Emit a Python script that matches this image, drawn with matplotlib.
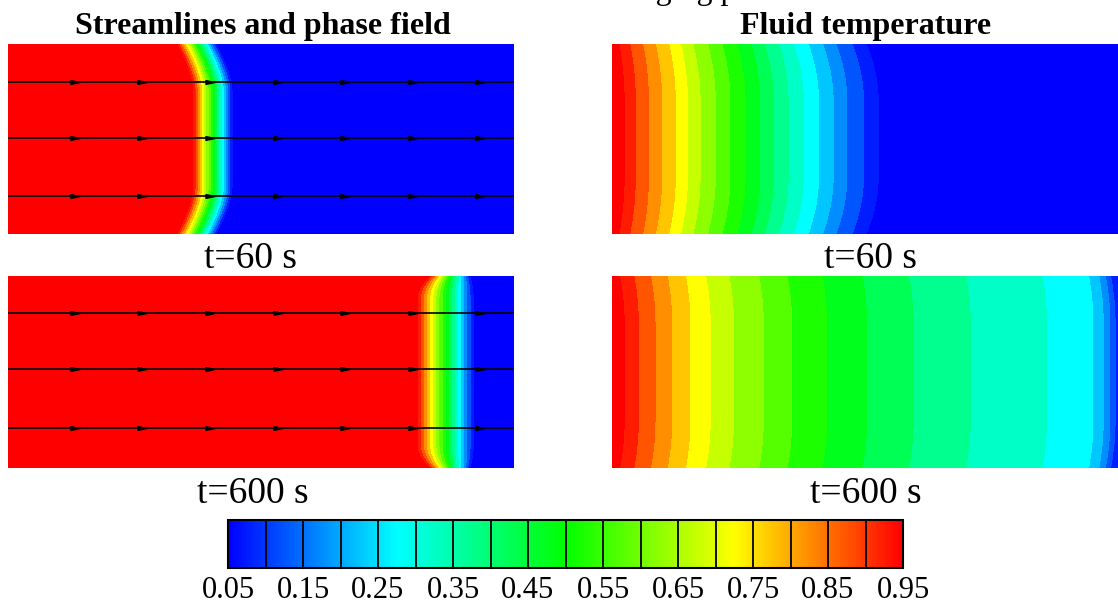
import numpy as np
import matplotlib
matplotlib.use("Agg")
import matplotlib.pyplot as plt
from matplotlib.colors import (ListedColormap, BoundaryNorm, Normalize,
                               LinearSegmentedColormap, hsv_to_rgb)
from matplotlib.cm import ScalarMappable
from matplotlib.path import Path

plt.rcParams["font.family"] = ["Liberation Serif", "DejaVu Serif"]

# ---------------------------------------------------------------- data
panel_titles = ["Streamlines and phase field", "Fluid temperature"]
time_labels = ["t=60 s", "t=600 s"]
caption_text = "Charging process"

# contour levels shown on the legend bar
contour_levels = np.round(np.arange(0.05, 0.951, 0.05), 2)
cbar_ticks = np.round(np.arange(0.05, 0.951, 0.10), 2)

# phase field: front centre and ramp length (fractions of channel length)
phase_front_60 = 0.404
phase_ramp_60 = 0.086
phase_wall_lag_60 = 0.032          # front lags behind near the walls
phase_front_600 = 0.864
phase_ramp_600 = 0.123
phase_wall_shift_600 = 0.009       # front slightly ahead near the walls
phase_wall_ramp_600 = 0.088

# fluid temperature: isotherm positions along the channel centre line
iso_levels = [1.00, 0.95, 0.90, 0.85, 0.80, 0.75, 0.70, 0.65, 0.60, 0.55,
              0.50, 0.45, 0.40, 0.35, 0.30, 0.25, 0.20, 0.15, 0.10, 0.05, 0.00]
iso_x_60 = [0.000, 0.024, 0.046, 0.072, 0.098, 0.125, 0.149, 0.174, 0.204,
            0.233, 0.263, 0.292, 0.319, 0.348, 0.378, 0.408, 0.437, 0.464,
            0.497, 0.526, 0.560]
iso_x_600 = [0.000, 0.024, 0.052, 0.085, 0.118, 0.154, 0.194, 0.240, 0.299,
             0.355, 0.424, 0.503, 0.595, 0.708, 0.859, 0.951, 0.971, 0.984,
             0.994, 1.020, 1.060]

# streamlines (height fraction) and arrow-head stations (length fraction)
stream_y_60 = [0.800, 0.505, 0.200]
stream_y_600 = [0.807, 0.516, 0.208]
arrow_x = [0.132, 0.265, 0.399, 0.534, 0.666, 0.800, 0.933]

# ---------------------------------------------------------------- helpers
W, H = 1118, 609
fig = plt.figure(figsize=(W / 100, H / 100), dpi=100)


def px_axes(left, top, right, bottom):
    return fig.add_axes([left / W, 1 - bottom / H,
                         (right - left) / W, (bottom - top) / H])


def rainbow(frac):
    """Blue -> cyan -> green -> yellow -> red."""
    hue = (1.0 - np.clip(frac, 0, 1)) * 240.0 / 360.0
    return hsv_to_rgb([hue, 1.0, 1.0])


n_cells = len(contour_levels) - 1
band_colors = ([rainbow(0.0)]
               + [rainbow((k - 0.5) / n_cells) for k in range(1, n_cells + 1)]
               + [rainbow(1.0)])
bounds = np.concatenate([[-0.05], contour_levels, [1.05]])
band_cmap = ListedColormap(band_colors)
band_norm = BoundaryNorm(bounds, band_cmap.N)

nx, ny = 700, 260
xg = np.linspace(0, 1, nx)
yg = np.linspace(0, 1, ny)
X, Y = np.meshgrid(xg, yg)
D = np.minimum(Y, 1 - Y)


def wall_weight(depth, power):
    return np.clip(1 - D / depth, 0, 1) ** power


def phase_field(front, ramp):
    return np.clip(0.5 - (X - front) / ramp, 0.0, 1.0)


def temperature(iso_x, lag):
    return np.interp(X + lag, np.asarray(iso_x), np.asarray(iso_levels))


# ---------------------------------------------------------------- fields
g60 = wall_weight(0.24, 1.5)
phi_60 = phase_field(phase_front_60 - phase_wall_lag_60 * g60, phase_ramp_60)

g600 = wall_weight(0.12, 2.0)
phi_600 = phase_field(phase_front_600 + phase_wall_shift_600 * g600,
                      phase_ramp_600 - (phase_ramp_600 - phase_wall_ramp_600) * g600)

gt60 = wall_weight(0.30, 2.0)
temp_60 = temperature(iso_x_60, (0.010 + 0.027 * X) * gt60)
gt600 = wall_weight(0.25, 2.0)
temp_600 = temperature(iso_x_600, 0.009 * gt600)

panels = [
    ((8, 44, 514, 234), phi_60, stream_y_60),
    ((612, 44, 1118, 234), temp_60, None),
    ((8, 276, 514, 468), phi_600, stream_y_600),
    ((612, 276, 1118, 468), temp_600, None),
]

arrow_head = Path([(-1.0, -0.42), (1.0, 0.0), (-1.0, 0.42), (-1.0, -0.42)],
                  [Path.MOVETO, Path.LINETO, Path.LINETO, Path.CLOSEPOLY])

for box, field, streams in panels:
    ax = px_axes(*box)
    ax.contourf(X, Y, field, levels=bounds, cmap=band_cmap, norm=band_norm)
    if streams is not None:
        for ys in streams:
            ax.plot([0, 1], [ys, ys], color="black", lw=1.2)
            ax.plot(arrow_x, [ys] * len(arrow_x), ls="none", marker=arrow_head,
                    ms=6.5, color="black")
    ax.set_xlim(0, 1)
    ax.set_ylim(0, 1)
    ax.axis("off")

# ---------------------------------------------------------------- texts
title_kw = dict(fontsize=23, fontweight="bold", ha="center", va="baseline")
fig.text(263 / W, 1 - 34 / H, panel_titles[0], **title_kw)
fig.text(866 / W, 1 - 34 / H, panel_titles[1], **title_kw)
fig.text(594 / W, 1 + 1 / H, caption_text, fontsize=23, ha="left", va="baseline")

label_kw = dict(fontsize=27, ha="center", va="baseline")
fig.text(250 / W, 1 - 268 / H, time_labels[0], **label_kw)
fig.text(870 / W, 1 - 268 / H, time_labels[0], **label_kw)
fig.text(253 / W, 1 - 503 / H, time_labels[1], **label_kw)
fig.text(866 / W, 1 - 503 / H, time_labels[1], **label_kw)

# ---------------------------------------------------------------- legend bar
cax = px_axes(228, 520, 903, 568)
bar_cmap = LinearSegmentedColormap.from_list(
    "rainbow", [rainbow(f) for f in np.linspace(0, 1, 256)])
cb = fig.colorbar(ScalarMappable(norm=Normalize(contour_levels[0], contour_levels[-1]),
                                 cmap=bar_cmap),
                  cax=cax, orientation="horizontal", ticks=cbar_ticks)
cb.ax.set_xticklabels([f"{v:.2f}" for v in cbar_ticks])
cb.ax.tick_params(length=0, labelsize=22, pad=6)
cb.outline.set_linewidth(1.5)
for v in contour_levels:
    cax.axvline(v, color="black", lw=1.3)

fig.savefig("out.png", dpi=100)
